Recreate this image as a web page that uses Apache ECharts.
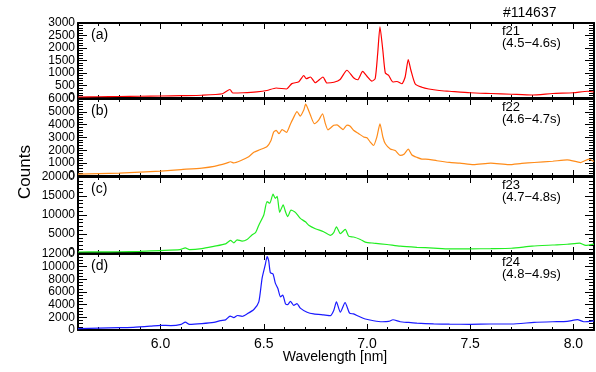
<!DOCTYPE html>
<html>
<head>
<meta charset="utf-8">
<script src="https://cdn.jsdelivr.net/npm/echarts@6/dist/echarts.min.js"></script>
<style>
  html, body { margin: 0; padding: 0; background: #fff; }
  #chart { width: 596px; height: 372px; }
</style>
</head>
<body>
<div id="chart"></div>
<script>
// wavelength [nm] / counts
const waveA = [5.6, 5.7, 5.8, 5.9, 6.0, 6.1, 6.2, 6.3, 6.336, 6.35, 6.4, 6.466, 6.515, 6.56, 6.61, 6.636, 6.67, 6.694, 6.706, 6.726, 6.75, 6.787, 6.806, 6.84, 6.87, 6.903, 6.935, 6.955, 6.979, 7.0, 7.024, 7.04, 7.052, 7.063, 7.077, 7.089, 7.105, 7.126, 7.145, 7.169, 7.185, 7.2, 7.213, 7.234, 7.266, 7.3, 7.35, 7.4, 7.5, 7.6, 7.7, 7.8, 7.9, 8.0, 8.07, 8.1];
const countsA = [40, 50, 60, 70, 80, 95, 110, 170, 340, 200, 210, 245, 300, 400, 360, 575, 650, 900, 770, 840, 610, 840, 600, 630, 740, 1110, 810, 730, 1065, 870, 675, 780, 1780, 2850, 1900, 1000, 905, 640, 660, 570, 840, 1540, 1110, 560, 430, 360, 300, 270, 210, 180, 150, 120, 180, 210, 270, 240];

const waveB = [5.6, 5.7, 5.8, 5.9, 6.0, 6.1, 6.2, 6.26, 6.32, 6.339, 6.355, 6.387, 6.427, 6.452, 6.484, 6.516, 6.535, 6.548, 6.56, 6.574, 6.589, 6.61, 6.629, 6.645, 6.661, 6.677, 6.694, 6.703, 6.713, 6.726, 6.745, 6.766, 6.785, 6.798, 6.811, 6.826, 6.839, 6.855, 6.871, 6.884, 6.903, 6.919, 6.935, 6.96, 6.984, 7.0, 7.016, 7.032, 7.048, 7.063, 7.077, 7.089, 7.113, 7.137, 7.161, 7.181, 7.2, 7.218, 7.242, 7.266, 7.298, 7.339, 7.4, 7.45, 7.516, 7.6, 7.687, 7.75, 7.81, 7.9, 7.97, 8.035, 8.075, 8.1];
const countsB = [150, 180, 220, 300, 380, 500, 620, 750, 1000, 1110, 1020, 1190, 1500, 1850, 2060, 2300, 2770, 3430, 3560, 3300, 3620, 3400, 4040, 4570, 5020, 4670, 5150, 5600, 5280, 4750, 4080, 4360, 4850, 4100, 3600, 3780, 3960, 3980, 3780, 3620, 3960, 3880, 3560, 3300, 3040, 2980, 2640, 2380, 3040, 4060, 3040, 2510, 2110, 1980, 1600, 1720, 2100, 1640, 1450, 1320, 1300, 1190, 1060, 1000, 880, 1000, 880, 980, 1050, 1150, 1260, 1050, 1320, 1130];

const waveC = [5.6, 5.7, 5.8, 5.9, 6.0, 6.094, 6.12, 6.14, 6.2, 6.258, 6.315, 6.339, 6.355, 6.371, 6.395, 6.419, 6.444, 6.46, 6.476, 6.5, 6.516, 6.529, 6.545, 6.556, 6.565, 6.577, 6.594, 6.605, 6.616, 6.632, 6.653, 6.677, 6.702, 6.718, 6.75, 6.79, 6.823, 6.839, 6.852, 6.871, 6.895, 6.911, 6.935, 6.968, 6.992, 7.032, 7.097, 7.161, 7.242, 7.323, 7.4, 7.5, 7.6, 7.7, 7.8, 7.9, 7.97, 8.03, 8.06, 8.1];
const countsC = [260, 300, 330, 450, 650, 880, 1350, 900, 1150, 1750, 2400, 3300, 2680, 3480, 3130, 3570, 4820, 5360, 7320, 10000, 13500, 13100, 15500, 14400, 14900, 10700, 12700, 10900, 9550, 11300, 10700, 9100, 8200, 7300, 6400, 5600, 4650, 5360, 6900, 5090, 6200, 4450, 4200, 3570, 2860, 2590, 2230, 1790, 1500, 1300, 1100, 1100, 1150, 1250, 1800, 2100, 2300, 2600, 2000, 2350];

const waveD = [5.6, 5.7, 5.8, 5.867, 5.95, 6.0, 6.05, 6.1, 6.12, 6.14, 6.2, 6.258, 6.29, 6.315, 6.337, 6.355, 6.373, 6.395, 6.419, 6.452, 6.476, 6.492, 6.508, 6.516, 6.524, 6.532, 6.545, 6.556, 6.568, 6.581, 6.592, 6.605, 6.616, 6.629, 6.645, 6.661, 6.677, 6.71, 6.742, 6.79, 6.823, 6.839, 6.852, 6.871, 6.894, 6.916, 6.935, 6.96, 6.992, 7.032, 7.073, 7.105, 7.126, 7.161, 7.202, 7.242, 7.323, 7.4, 7.5, 7.6, 7.7, 7.81, 7.9, 7.97, 8.02, 8.05, 8.1];
const countsD = [210, 300, 380, 420, 600, 740, 700, 900, 1250, 890, 1000, 1190, 1470, 1600, 2200, 1950, 2290, 2160, 2540, 3240, 4430, 8200, 10400, 11600, 10900, 9030, 8860, 7400, 6590, 5240, 5510, 4160, 4000, 4540, 3890, 4160, 3460, 2810, 2540, 2380, 2270, 3080, 4450, 2810, 4320, 2650, 2540, 2160, 1730, 1460, 1300, 1350, 1620, 1300, 1190, 1080, 970, 920, 900, 950, 950, 1200, 1300, 1350, 1650, 1300, 1450];

const xMajorTicks = [6.0, 6.5, 7.0, 7.5, 8.0];
const panelLabels = ['(a)', '(b)', '(c)', '(d)'];
const frameNames = ['f21', 'f22', 'f23', 'f24'];
const frameTimes = ['(4.5\u22124.6s)', '(4.6\u22124.7s)', '(4.7\u22124.8s)', '(4.8\u22124.9s)'];
const yMax = [3000, 6000, 20000, 12000];
const yStep = [500, 1000, 5000, 2000];
const yMinor = [5, 5, 5, 4];

const panels = [
  { wave: waveA, counts: countsA, color: '#ff0000' },
  { wave: waveB, counts: countsB, color: '#ff8c1a' },
  { wave: waveC, counts: countsC, color: '#22ee22' },
  { wave: waveD, counts: countsD, color: '#1a1aff' },
];

const FONT = 'Liberation Sans';
const tops = [23, 99, 177, 254];
const heights = [75, 77, 76, 76];

const chart = echarts.init(document.getElementById('chart'));

const grid = [], xAxis = [], yAxis = [], series = [], graphic = [];
const frameLine = { show: true, lineStyle: { color: '#000', width: 2 } };

panels.forEach((p, i) => {
  grid.push({ left: 78, right: 2, top: tops[i], height: heights[i] });
  const isLast = i === panels.length - 1;
  // minor x ticks (every 0.1), bottom and top
  ['bottom', 'top'].forEach(pos => {
    xAxis.push({
      type: 'value', gridIndex: i, position: pos, min: 5.6, max: 8.1, interval: 0.1,
      axisLine: frameLine,
      axisTick: { show: true, inside: true, length: 3, lineStyle: { color: '#000' } },
      axisLabel: {
        show: isLast && pos === 'bottom',
        customValues: xMajorTicks,
        formatter: v => v.toFixed(1),
        color: '#000', fontFamily: FONT, fontSize: 14, margin: 7
      },
      splitLine: { show: false }
    });
    // longer major ticks
    xAxis.push({
      type: 'value', gridIndex: i, position: pos, min: 5.6, max: 8.1,
      axisLine: { show: false },
      axisTick: { show: true, inside: true, length: 6, customValues: xMajorTicks, lineStyle: { color: '#000' } },
      axisLabel: { show: false },
      splitLine: { show: false }
    });
  });
  ['left', 'right'].forEach(pos => {
    yAxis.push({
      type: 'value', gridIndex: i, position: pos, min: 0, max: yMax[i], interval: yStep[i],
      axisLine: frameLine,
      axisTick: { show: true, inside: true, length: 9, lineStyle: { color: '#000' } },
      minorTick: { show: true, splitNumber: yMinor[i], length: 5, lineStyle: { color: '#000' } },
      axisLabel: {
        show: pos === 'left', formatter: v => String(v),
        color: '#000', fontFamily: FONT, fontSize: 12, margin: 3
      },
      splitLine: { show: false }
    });
  });

  series.push({
    type: 'line',
    xAxisIndex: i * 4,
    yAxisIndex: i * 2,
    data: p.wave.map((w, k) => [w, p.counts[k]]),
    showSymbol: false,
    smooth: 0.2,
    lineStyle: { color: p.color, width: 1.2 },
    itemStyle: { color: p.color },
    silent: true
  });

  graphic.push({
    type: 'text', left: 91, top: tops[i] + 5,
    style: { text: panelLabels[i], fontFamily: FONT, fontSize: 14, fill: '#000' }
  });
  graphic.push({
    type: 'text', left: 502, top: tops[i] + 2,
    style: { text: frameNames[i] + '\n' + frameTimes[i], fontFamily: FONT, fontSize: 13, lineHeight: 12, fill: '#000' }
  });
});

graphic.push({
  type: 'text', left: 503, top: 6,
  style: { text: '#114637', fontFamily: FONT, fontSize: 14, fill: '#000' }
});
graphic.push({
  type: 'text', x: 25, y: 172, rotation: Math.PI / 2,
  style: { text: 'Counts', fontFamily: FONT, fontSize: 17, fill: '#000', align: 'center', verticalAlign: 'middle' }
});
graphic.push({
  type: 'text', x: 335, y: 357,
  style: { text: 'Wavelength [nm]', fontFamily: FONT, fontSize: 14, fill: '#000', align: 'center', verticalAlign: 'middle' }
});

chart.setOption({
  animation: false,
  grid, xAxis, yAxis, series, graphic
});
</script>
</body>
</html>
